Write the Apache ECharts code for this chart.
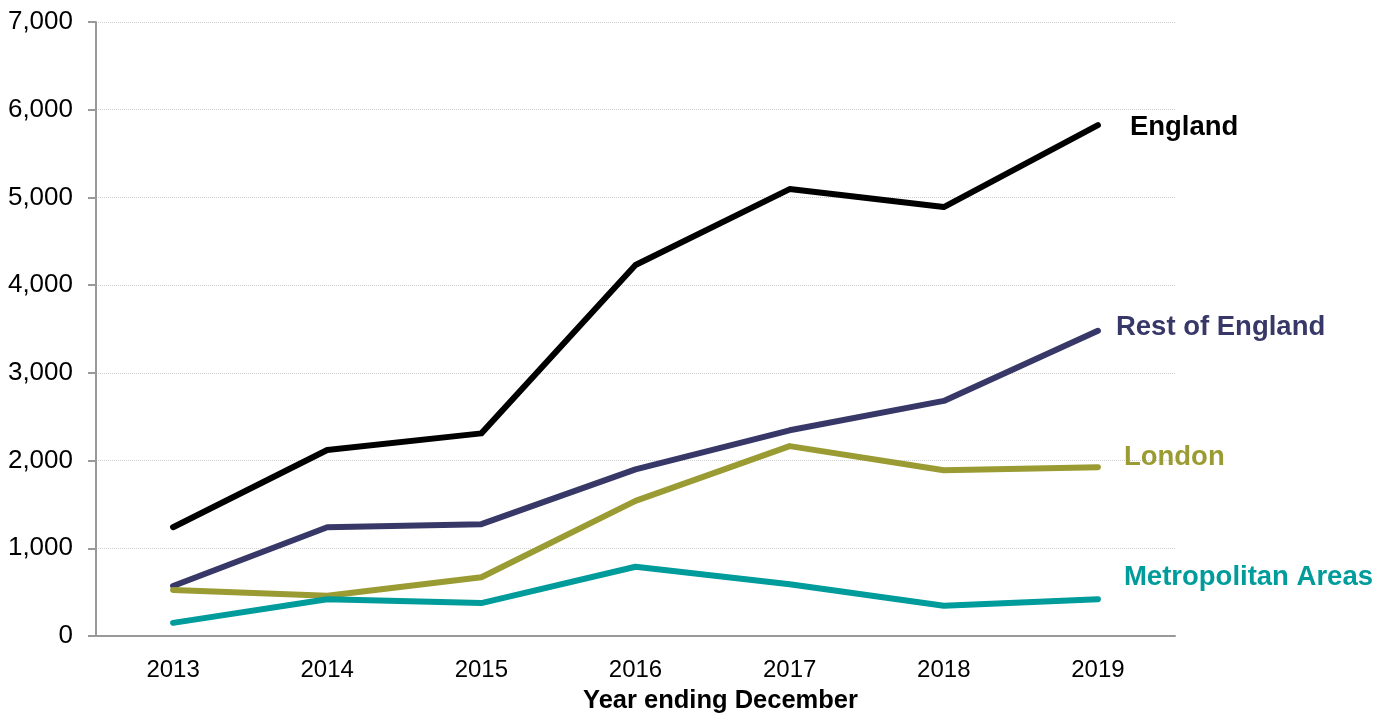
<!DOCTYPE html>
<html>
<head>
<meta charset="utf-8">
<script src="https://cdn.jsdelivr.net/npm/echarts@6/dist/echarts.min.js"></script>
<style>
  html, body { margin: 0; padding: 0; background: #fff; }
  #chart { width: 1394px; height: 717px; }
</style>
</head>
<body>
<div id="chart"></div>
<script>
// data
var years = ['2013', '2014', '2015', '2016', '2017', '2018', '2019'];
var england = [1240, 2120, 2310, 4230, 5095, 4890, 5825];
var restOfEngland = [570, 1240, 1275, 1900, 2345, 2680, 3480];
var london = [525, 460, 670, 1540, 2165, 1890, 1925];
var metroAreas = [150, 420, 375, 790, 590, 345, 420];

var font = 'Liberation Sans, Arial, sans-serif';

function makeSeries(name, data, color, offset) {
  return {
    name: name,
    type: 'line',
    data: data,
    symbol: 'none',
    lineStyle: { width: 6, color: color, cap: 'round', join: 'round' },
    itemStyle: { color: color },
    endLabel: {
      show: true,
      formatter: name,
      color: color,
      fontFamily: font,
      fontWeight: 'bold',
      fontSize: 27.5,
      distance: 0,
      offset: offset
    }
  };
}

var myChart = echarts.init(document.getElementById('chart'));

var option = {
  animation: false,
  backgroundColor: '#fff',
  grid: {
    left: 96,
    right: 219,
    top: 22,
    bottom: 81,
    outerBoundsMode: 'none'
  },
  xAxis: {
    type: 'category',
    data: years,
    boundaryGap: true,
    name: 'Year ending December',
    nameLocation: 'middle',
    nameGap: 52,
    nameTextStyle: {
      fontFamily: font, fontWeight: 'bold', fontSize: 25.5, color: '#000',
      padding: [0, 0, 0, 170]
    },
    axisLine: { lineStyle: { color: '#999', width: 2 } },
    axisTick: { show: false },
    axisLabel: { fontFamily: font, fontSize: 24, color: '#000', margin: 22 }
  },
  yAxis: {
    type: 'value',
    min: 0,
    max: 7000,
    interval: 1000,
    axisLine: { show: true, lineStyle: { color: '#999', width: 2 } },
    axisTick: { show: true, length: 8, lineStyle: { color: '#999', width: 2 } },
    axisLabel: {
      fontFamily: font,
      fontSize: 26,
      color: '#000',
      margin: 23,
      formatter: function (v) { return v.toLocaleString('en-GB'); }
    },
    splitLine: { lineStyle: { color: '#cfcfcf', type: 'dotted', width: 1 } }
  },
  series: [
    makeSeries('England', england, '#000000', [32, 2]),
    makeSeries('Rest of England', restOfEngland, '#383868', [18, -3]),
    makeSeries('London', london, '#9b9b33', [26, -10]),
    makeSeries('Metropolitan Areas', metroAreas, '#009b9b', [26, -22])
  ]
};

myChart.setOption(option);
window.addEventListener('resize', function () {
  myChart.resize();
});
</script>
</body>
</html>
